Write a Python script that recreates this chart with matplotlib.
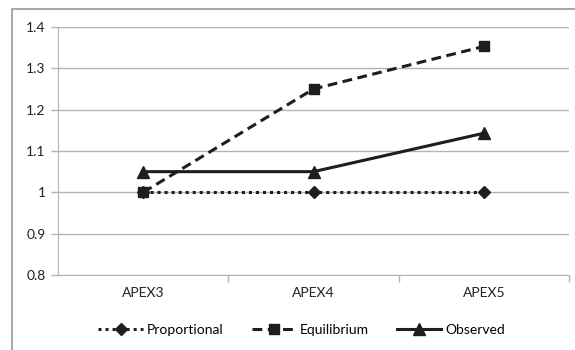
import matplotlib.pyplot as plt
from matplotlib.patches import Rectangle

categories = ['APEX3', 'APEX4', 'APEX5']
proportional = [1.0, 1.0, 1.0]
equilibrium = [1.0, 1.25, 1.353]
observed = [1.05, 1.05, 1.143]
yticks = [0.8, 0.9, 1.0, 1.1, 1.2, 1.3, 1.4]
ytick_labels = ['0.8', '0.9', '1', '1.1', '1.2', '1.3', '1.4']

plt.rcParams['font.family'] = ['Lato', 'DejaVu Sans']
dark = '#1e1e1e'
grid = '#b4b4b4'

fig = plt.figure(figsize=(5.75, 3.5), dpi=100)
ax = fig.add_axes([0.1009, 0.2143, 0.8887, 0.7086])

x = range(len(categories))
ax.plot(x, proportional, color=dark, lw=2.2, linestyle=(0, (1, 1.3)),
        marker='D', ms=6.5, label='Proportional')
ax.plot(x, equilibrium, color=dark, lw=2.2, linestyle=(0, (3.2, 1.8)),
        marker='s', ms=7, label='Equilibrium')
ax.plot(x, observed, color=dark, lw=2.2, linestyle='-',
        marker='^', ms=8, label='Observed')

ax.set_xlim(-0.5, 2.5)
ax.set_ylim(0.8, 1.4)
ax.set_yticks(yticks)
ax.set_yticklabels(ytick_labels)
ax.set_xticks(x)
ax.set_xticklabels(categories)
ax.set_xticks([0.5, 1.5, 2.5], minor=True)
ax.tick_params(axis='x', which='major', length=0, pad=9, labelsize=10, colors='#222222')
ax.tick_params(axis='x', which='minor', length=5, color=grid, width=1)
ax.tick_params(axis='y', length=5, color=grid, width=1, pad=4, labelsize=10, colors='#222222')
ax.yaxis.grid(True, color=grid, lw=1)
ax.set_axisbelow(True)
for side in ['top', 'right']:
    ax.spines[side].set_visible(False)
ax.spines['left'].set_color(grid)
ax.spines['bottom'].set_color(grid)

fig.legend(loc='center', bbox_to_anchor=(0.525, 0.057), ncol=3, frameon=False,
           fontsize=10, handlelength=3.2, handletextpad=0.3, columnspacing=2.0)

# outer chart border
fig.patches.append(Rectangle((12 / 575, -0.1), 1.2, 0.1 + (350 - 9) / 350,
                             transform=fig.transFigure, fill=False,
                             edgecolor='#9a9a9a', lw=1.2))

fig.savefig('out.png', dpi=100)
